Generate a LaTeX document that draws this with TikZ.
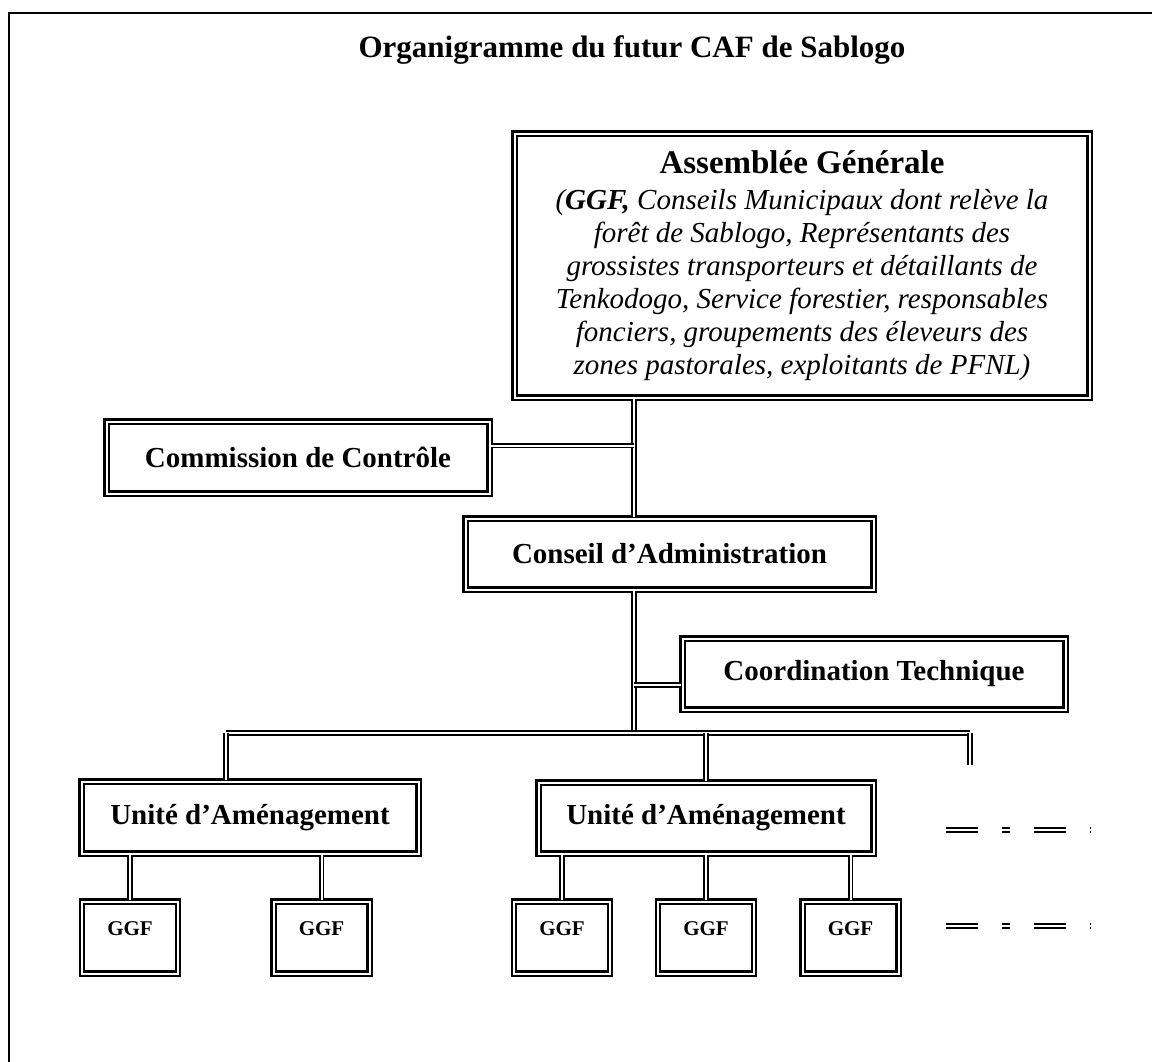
\documentclass[tikz,border=0pt]{standalone}
\usepackage{fontspec}
\setmainfont{Liberation Serif}
\usepackage{tikz}

\begin{document}
\begin{tikzpicture}[x=1pt, y=-1pt,
  orgbox/.style={draw, double, double distance=2pt, line width=2.2pt, inner sep=0pt,
                 font=\fontsize{29}{33}\selectfont\bfseries},
  ggfbox/.style={orgbox, minimum width=96pt, minimum height=72pt, text depth=17pt,
                 font=\fontsize{21}{24}\selectfont\bfseries},
  linkline/.style={double, double distance=2pt, line width=1.8pt}]
  \clip (0,0) rectangle (1152,1061);
  % Frame and title
  \draw[line width=2.5pt] (9,13) rectangle (1200,1110);
  \node[font=\fontsize{31}{36}\selectfont\bfseries] (title) at (632,50)
        {Organigramme du futur CAF de Sablogo};
  % Boxes
  \node[orgbox, minimum width=575pt, minimum height=264pt, align=center,
        font=\fontsize{29}{33}\selectfont\itshape] (ag) at (802,265.5)
        {{\upshape\bfseries\fontsize{33}{38}\selectfont Assemblée Générale}\\[3pt]
         (\textbf{GGF,} Conseils Municipaux dont relève la\\
         forêt de Sablogo, Représentants des\\
         grossistes transporteurs et détaillants de\\
         Tenkodogo, Service forestier, responsables\\
         fonciers, groupements des éleveurs des\\
         zones pastorales, exploitants de PFNL)};
  \node[orgbox, minimum width=383pt, minimum height=72pt] (cc) at (298,457.5)
        {Commission de Contrôle};
  \node[orgbox, minimum width=408pt, minimum height=71pt] (ca) at (669.5,554)
        {Conseil d’Administration};
  \node[orgbox, minimum width=383pt, minimum height=71pt] (ct) at (874,674)
        {Coordination Technique};
  \node[orgbox, minimum width=337pt, minimum height=72pt] (u1) at (250,817.5)
        {Unité d’Aménagement};
  \node[orgbox, minimum width=335pt, minimum height=71pt] (u2) at (706,818)
        {Unité d’Aménagement};
  \foreach \n/\x in {1/130,2/321.5,3/562,4/706,5/850.5}
    \node[ggfbox] (g\n) at (\x,937.5) {GGF};
  % Connectors
  \coordinate (spine) at (634,0);
  \coordinate (busL) at (226,733);
  \coordinate (busR) at (970,733);
  \coordinate (stub) at (970,765);
  \draw[linkline] (ag.south -| spine) -- (ca.north -| spine);
  \draw[linkline] ([yshift=12pt]cc.east) -- ([yshift=12pt]cc.east -| spine);
  \draw[linkline] (ca.south -| spine) -- (busL -| spine);
  \draw[linkline] ([yshift=-11pt]ct.west) -- ([yshift=-11pt]ct.west -| spine);
  \draw[linkline] (busL) -- (busR);
  \draw[linkline] (busL) -- (u1.north -| busL);
  \draw[linkline] (busL -| u2) -- (u2.north);
  \draw[linkline] (busR) -- (stub);
  \foreach \n/\u in {1/u1,2/u1,3/u2,4/u2,5/u2}
    \draw[linkline] (\u.south -| g\n) -- (g\n.north);
  % Continuation marks
  \foreach \y/\nm in {830/dA,926/dB}{
    \coordinate (\nm) at (946,\y);
    \coordinate (\nm-e) at (1092,\y);
    \draw[linkline, dash pattern=on 32pt off 24pt on 8pt off 24pt on 32pt off 24pt on 1pt off 60pt]
          (\nm) -- (\nm-e);
  }
\end{tikzpicture}
\end{document}
